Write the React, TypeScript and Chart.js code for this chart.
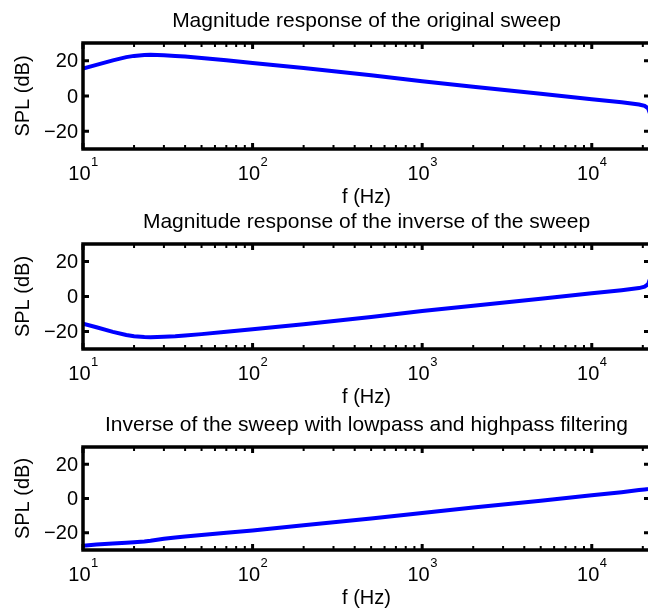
import React, { useEffect, useRef } from "react";
import { Chart, registerables } from "chart.js";

Chart.register(...registerables);

// ---------- data ----------
const freqs = [10, 12, 15, 18, 20, 23, 25, 30, 35, 40, 50, 70, 100, 200, 500, 1000, 2000, 5000, 10000, 15000, 19000, 20500, 21500, 22050];
const sweepDb = [15.5, 17.6, 20.2, 22, 22.7, 23.2, 23.3, 23, 22.7, 22.3, 21.5, 20.2, 18.7, 15.8, 11.7, 8.3, 5.3, 1.3, -1.8, -3.6, -4.8, -5.6, -7, -10];
const inverseDb = [-15.5, -17.6, -20.2, -22, -22.7, -23.2, -23.3, -23, -22.7, -22.3, -21.5, -20.2, -18.7, -15.8, -11.7, -8.3, -5.3, -1.3, 1.8, 3.6, 4.8, 5.6, 7, 10];
const filteredDb = [-27.5, -26.8, -26.2, -25.8, -25.5, -25, -24.6, -23.5, -22.7, -22.2, -21.3, -20, -18.6, -15.6, -11.6, -8.4, -5.3, -1.3, 1.9, 3.7, 4.9, 5.3, 5.5, 5.7];

const titles = [
  "Magnitude response of the original sweep",
  "Magnitude response of the inverse of the sweep",
  "Inverse of the sweep with lowpass and highpass filtering",
];
const seriesList = [sweepDb, inverseDb, filteredDb];

const xMin = 10;
const xMax = 22050;
const yMin = -30;
const yMax = 30;
const xTickDecades = [10, 100, 1000, 10000];
const xTickBase = "10";
const xTickExponents = ["1", "2", "3", "4"];
const minorMultipliers = [2, 3, 4, 5, 6, 7, 8, 9];
const yTicks = [-20, 0, 20];
const yTickLabels = ["\u221220", "0", "20"];
const xLabel = "f (Hz)";
const yLabel = "SPL (dB)";

// ---------- layout ----------
const CANVAS_W = 652;
const CANVAS_H = 610;
const PLOT_LEFT = 83;
const PLOT_RIGHT = 650;
const panelBoxes = [
  { top: 43, bottom: 149 },
  { top: 244, bottom: 349 },
  { top: 447, bottom: 550 },
];
const FONT = "'Liberation Sans', Arial, Helvetica, sans-serif";

const framePlugin = {
  id: "frame",
  afterDatasetsDraw(chart: any, _args: any, opts: any) {
    const { ctx, chartArea, scales } = chart;
    const { left, right, top, bottom } = chartArea;
    const x = scales.x;
    const y = scales.y;
    ctx.save();
    ctx.strokeStyle = "#000";
    ctx.fillStyle = "#000";

    // minor x ticks
    ctx.lineWidth = 2;
    ctx.beginPath();
    for (const d of xTickDecades) {
      for (const m of minorMultipliers) {
        const v = d * m;
        if (v > xMax) continue;
        const px = x.getPixelForValue(v);
        ctx.moveTo(px, bottom);
        ctx.lineTo(px, bottom - 4);
        ctx.moveTo(px, top);
        ctx.lineTo(px, top + 4);
      }
    }
    ctx.stroke();

    // major x ticks
    ctx.lineWidth = 3;
    ctx.beginPath();
    for (const d of xTickDecades) {
      const px = x.getPixelForValue(d);
      ctx.moveTo(px, bottom);
      ctx.lineTo(px, bottom - 6);
      ctx.moveTo(px, top);
      ctx.lineTo(px, top + 6);
    }
    // y ticks
    for (const t of yTicks) {
      const py = y.getPixelForValue(t);
      ctx.moveTo(left, py);
      ctx.lineTo(left + 6, py);
      ctx.moveTo(right, py);
      ctx.lineTo(right - 6, py);
    }
    ctx.stroke();

    // frame
    ctx.lineWidth = 3.5;
    ctx.strokeRect(left, top, right - left, bottom - top);

    // y tick labels
    ctx.font = `20px ${FONT}`;
    ctx.textAlign = "right";
    ctx.textBaseline = "middle";
    yTicks.forEach((t, i) => {
      ctx.fillText(yTickLabels[i], left - 5, y.getPixelForValue(t) + 1);
    });

    // x tick labels (10 with superscript exponent)
    xTickDecades.forEach((d, i) => {
      const px = x.getPixelForValue(d);
      ctx.font = `20px ${FONT}`;
      const w1 = ctx.measureText(xTickBase).width;
      ctx.font = `13px ${FONT}`;
      const w2 = ctx.measureText(xTickExponents[i]).width;
      const start = px - (w1 + w2) / 2;
      ctx.textAlign = "left";
      ctx.textBaseline = "alphabetic";
      ctx.font = `20px ${FONT}`;
      ctx.fillText(xTickBase, start, bottom + 31);
      ctx.font = `13px ${FONT}`;
      ctx.fillText(xTickExponents[i], start + w1 + 0.5, bottom + 17);
    });

    // x axis label
    ctx.font = `20px ${FONT}`;
    ctx.textAlign = "center";
    ctx.textBaseline = "middle";
    ctx.fillText(xLabel, (left + right) / 2, bottom + 48);

    // y axis label
    ctx.save();
    ctx.translate(23, (top + bottom) / 2);
    ctx.rotate(-Math.PI / 2);
    ctx.font = `20px ${FONT}`;
    ctx.textAlign = "center";
    ctx.textBaseline = "middle";
    ctx.fillText(yLabel, 0, 0);
    ctx.restore();

    // title
    ctx.font = `21px ${FONT}`;
    ctx.textAlign = "center";
    ctx.textBaseline = "alphabetic";
    ctx.fillText(opts.title, (left + right) / 2, top - 16);

    ctx.restore();
  },
};

function PanelChart({ index }: { index: number }) {
  const ref = useRef<HTMLCanvasElement | null>(null);
  useEffect(() => {
    if (!ref.current) return;
    const box = panelBoxes[index];
    const values = seriesList[index];
    const chart = new Chart(ref.current, {
      type: "line",
      data: {
        datasets: [
          {
            data: freqs.map((f, i) => ({ x: f, y: values[i] })),
            borderColor: "#0000ff",
            borderWidth: 4,
            pointRadius: 0,
            fill: false,
            tension: 0,
          },
        ],
      },
      options: {
        responsive: false,
        animation: false,
        devicePixelRatio: 1,
        events: [],
        layout: {
          padding: {
            left: PLOT_LEFT,
            right: CANVAS_W - PLOT_RIGHT,
            top: box.top,
            bottom: CANVAS_H - box.bottom,
          },
        },
        scales: {
          x: { type: "logarithmic", min: xMin, max: xMax, display: false },
          y: { type: "linear", min: yMin, max: yMax, display: false },
        },
        plugins: {
          legend: { display: false },
          tooltip: { enabled: false },
          frame: { title: titles[index] },
        } as any,
      },
      plugins: [framePlugin],
    });
    return () => chart.destroy();
  }, [index]);
  return (
    <canvas
      ref={ref}
      width={CANVAS_W}
      height={CANVAS_H}
      style={{ position: "absolute", left: 0, top: 0, width: CANVAS_W, height: CANVAS_H }}
    />
  );
}

export default function App() {
  return (
    <div
      style={{
        position: "absolute",
        left: 0,
        top: 0,
        width: 648,
        height: 610,
        overflow: "hidden",
        background: "#fff",
      }}
    >
      {[0, 1, 2].map((i) => (
        <PanelChart key={i} index={i} />
      ))}
    </div>
  );
}
